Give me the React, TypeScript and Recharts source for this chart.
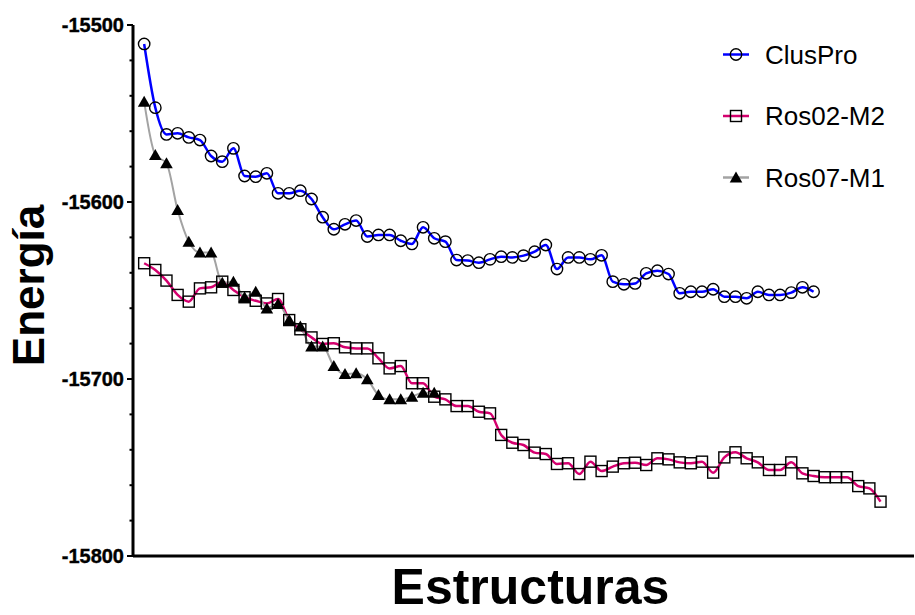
import React from 'react';
import { LineChart, Line, XAxis, YAxis, Legend, Label } from 'recharts';

// Structure index along the x axis
const structures = [
  1, 2, 3, 4, 5, 6, 7, 8, 9, 10, 11, 12, 13, 14, 15, 16, 17, 18, 19, 20,
  21, 22, 23, 24, 25, 26, 27, 28, 29, 30, 31, 32, 33, 34, 35, 36, 37, 38, 39, 40,
  41, 42, 43, 44, 45, 46, 47, 48, 49, 50, 51, 52, 53, 54, 55, 56, 57, 58, 59, 60,
  61, 62, 63, 64, 65, 66, 67,
];

// Energy per structure, one list per docking run
const clusPro = [
  -15510.7, -15546.7, -15561.8, -15561.2, -15563.5, -15565.0, -15574.0, -15577.2, -15569.7, -15585.3,
  -15585.7, -15583.8, -15595.1, -15595.1, -15593.6, -15598.3, -15608.6, -15615.4, -15612.6, -15610.5,
  -15619.5, -15618.6, -15618.6, -15621.9, -15623.7, -15614.3, -15620.5, -15622.4, -15632.8, -15633.1,
  -15634.3, -15632.4, -15630.9, -15631.3, -15630.3, -15628.1, -15624.3, -15637.9, -15631.3, -15631.3,
  -15632.4, -15630.1, -15645.0, -15646.5, -15646.0, -15640.3, -15638.8, -15640.7, -15651.6, -15650.7,
  -15650.7, -15649.3, -15653.5, -15653.5, -15654.4, -15650.7, -15652.5, -15652.5, -15651.2, -15648.2,
  -15650.7,
];

const ros02M2 = [
  -15634.6, -15638.4, -15644.4, -15652.5, -15656.3, -15648.8, -15648.2, -15645.0, -15649.7, -15653.8,
  -15655.8, -15657.3, -15654.8, -15666.7, -15671.9, -15676.5, -15680.2, -15679.8, -15682.1, -15682.7,
  -15682.7, -15688.3, -15694.0, -15692.7, -15702.4, -15702.4, -15710.0, -15711.5, -15715.3, -15715.3,
  -15718.5, -15719.4, -15731.6, -15736.0, -15737.3, -15741.6, -15742.4, -15748.0, -15747.6, -15753.7,
  -15746.7, -15752.0, -15749.5, -15747.6, -15747.3, -15748.6, -15744.8, -15745.4, -15747.1, -15747.6,
  -15746.7, -15752.9, -15744.3, -15741.4, -15744.8, -15747.1, -15751.4, -15751.4, -15747.1, -15753.3,
  -15754.8, -15755.5, -15755.5, -15755.5, -15760.5, -15761.8, -15769.3,
];

const ros07M1 = [
  -15543.3, -15573.4, -15578.1, -15604.5, -15622.4, -15628.6, -15628.6, -15645.6, -15645.0, -15653.8,
  -15650.7, -15660.1, -15657.6, -15666.7, -15670.4, -15681.7, -15681.7, -15692.7, -15697.2, -15696.8,
  -15700.2, -15709.0, -15711.5, -15711.5, -15710.0, -15707.7, -15707.7,
];

// Y axis ticks: labelled every 100, minor marks every 20
const yTicks = [
  -15800, -15780, -15760, -15740, -15720, -15700, -15680, -15660, -15640, -15620,
  -15600, -15580, -15560, -15540, -15520, -15500,
];

const seriesNames = ['ClusPro', 'Ros02-M2', 'Ros07-M1'];
const seriesColors = ['#0000FF', '#D4006E', '#A3A3A3'];

const rows = structures.map((s, i) => ({
  s,
  clusPro: clusPro[i],
  ros02: ros02M2[i],
  ros07: ros07M1[i],
}));

const FONT = '"Liberation Sans", Arial, Helvetica, sans-serif';

const CircleMark = ({ cx, cy }: { cx: number; cy: number }) => (
  <circle cx={cx} cy={cy} r={5.7} fill="none" stroke="#000" strokeWidth={1.4} />
);
const SquareMark = ({ cx, cy }: { cx: number; cy: number }) => (
  <rect x={cx - 5.5} y={cy - 5.5} width={11} height={11} fill="none" stroke="#000" strokeWidth={1.4} />
);
const TriangleMark = ({ cx, cy }: { cx: number; cy: number }) => (
  <path d={`M${cx},${cy - 6} L${cx + 6.3},${cy + 5} L${cx - 6.3},${cy + 5} Z`} fill="#000" />
);

const makeDot = (Mark: React.FC<{ cx: number; cy: number }>, prefix: string) => (props: any) => {
  const { cx, cy, value, index } = props;
  if (value == null || cx == null || cy == null || Number.isNaN(cy)) {
    return <g key={`${prefix}-${index}`} />;
  }
  return (
    <g key={`${prefix}-${index}`}>
      <Mark cx={cx} cy={cy} />
    </g>
  );
};

const YTick = (props: any) => {
  const { x, y, payload } = props;
  const major = payload.value % 100 === 0;
  return (
    <g>
      <line x1={x - (major ? 6 : 3.5)} x2={x} y1={y} y2={y} stroke="#000" strokeWidth={2} />
      {major && (
        <text
          x={x - 9}
          y={y}
          dy={7.2}
          textAnchor="end"
          fontFamily={FONT}
          fontWeight="bold"
          fontSize={20}
          fill="#000"
          stroke="#000"
          strokeWidth={0.4}
        >
          {payload.value}
        </text>
      )}
    </g>
  );
};

const LegendBox = () => {
  const rowsY = [24.5, 86, 147.5];
  const marks = [CircleMark, SquareMark, TriangleMark];
  return (
    <svg width={200} height={170} style={{ overflow: 'visible' }}>
      {seriesNames.map((name, i) => {
        const Mark = marks[i];
        const y = rowsY[i];
        return (
          <g key={name}>
            <line x1={8} x2={34} y1={y} y2={y} stroke={seriesColors[i]} strokeWidth={2.5} />
            <Mark cx={21} cy={y} />
            <text x={50} y={y} dy={9.3} fontFamily={FONT} fontSize={26} fill="#000">
              {name}
            </text>
          </g>
        );
      })}
    </svg>
  );
};

export default function App() {
  return (
    <div style={{ position: 'absolute', left: 0, top: 0, width: 915, height: 615, background: '#fff' }}>
      <LineChart width={915} height={615} data={rows} margin={{ top: 25, right: 1, bottom: 0, left: 0 }}>
        <XAxis
          type="number"
          dataKey="s"
          domain={[0, 70]}
          ticks={[]}
          tick={false}
          tickLine={false}
          axisLine={{ stroke: '#000', strokeWidth: 3 }}
          height={59}
        >
          <Label
            content={(p: any) => {
              const vb = p.viewBox;
              return (
                <text
                  x={vb.x + vb.width / 2 + 7}
                  y={vb.y + 48}
                  textAnchor="middle"
                  fontFamily={FONT}
                  fontWeight="bold"
                  fontSize={50}
                  fill="#000"
                >
                  Estructuras
                </text>
              );
            }}
          />
        </XAxis>
        <YAxis
          type="number"
          domain={[-15800, -15500]}
          ticks={yTicks}
          interval={0}
          tick={<YTick />}
          tickLine={false}
          tickSize={0}
          tickMargin={0}
          axisLine={{ stroke: '#000', strokeWidth: 3 }}
          width={133}
        >
          <Label
            content={(p: any) => {
              const vb = p.viewBox;
              const cy = vb.y + vb.height / 2 - 5;
              return (
                <text
                  x={44}
                  y={cy}
                  transform={`rotate(-90, 44, ${cy})`}
                  textAnchor="middle"
                  fontFamily={FONT}
                  fontWeight="bold"
                  fontSize={44}
                  fill="#000"
                >
                  Energía
                </text>
              );
            }}
          />
        </YAxis>
        <Legend
          layout="vertical"
          align="center"
          verticalAlign="middle"
          wrapperStyle={{ left: 715, top: 30, width: 200, height: 170 }}
          content={() => <LegendBox />}
        />
        <Line
          type="monotone"
          dataKey="ros02"
          name="Ros02-M2"
          stroke={seriesColors[1]}
          strokeWidth={2.5}
          dot={makeDot(SquareMark, 'sq')}
          activeDot={false}
          isAnimationActive={false}
        />
        <Line
          type="monotone"
          dataKey="ros07"
          name="Ros07-M1"
          stroke={seriesColors[2]}
          strokeWidth={2}
          dot={makeDot(TriangleMark, 'tr')}
          activeDot={false}
          isAnimationActive={false}
        />
        <Line
          type="monotone"
          dataKey="clusPro"
          name="ClusPro"
          stroke={seriesColors[0]}
          strokeWidth={2.5}
          dot={makeDot(CircleMark, 'ci')}
          activeDot={false}
          isAnimationActive={false}
        />
      </LineChart>
    </div>
  );
}
